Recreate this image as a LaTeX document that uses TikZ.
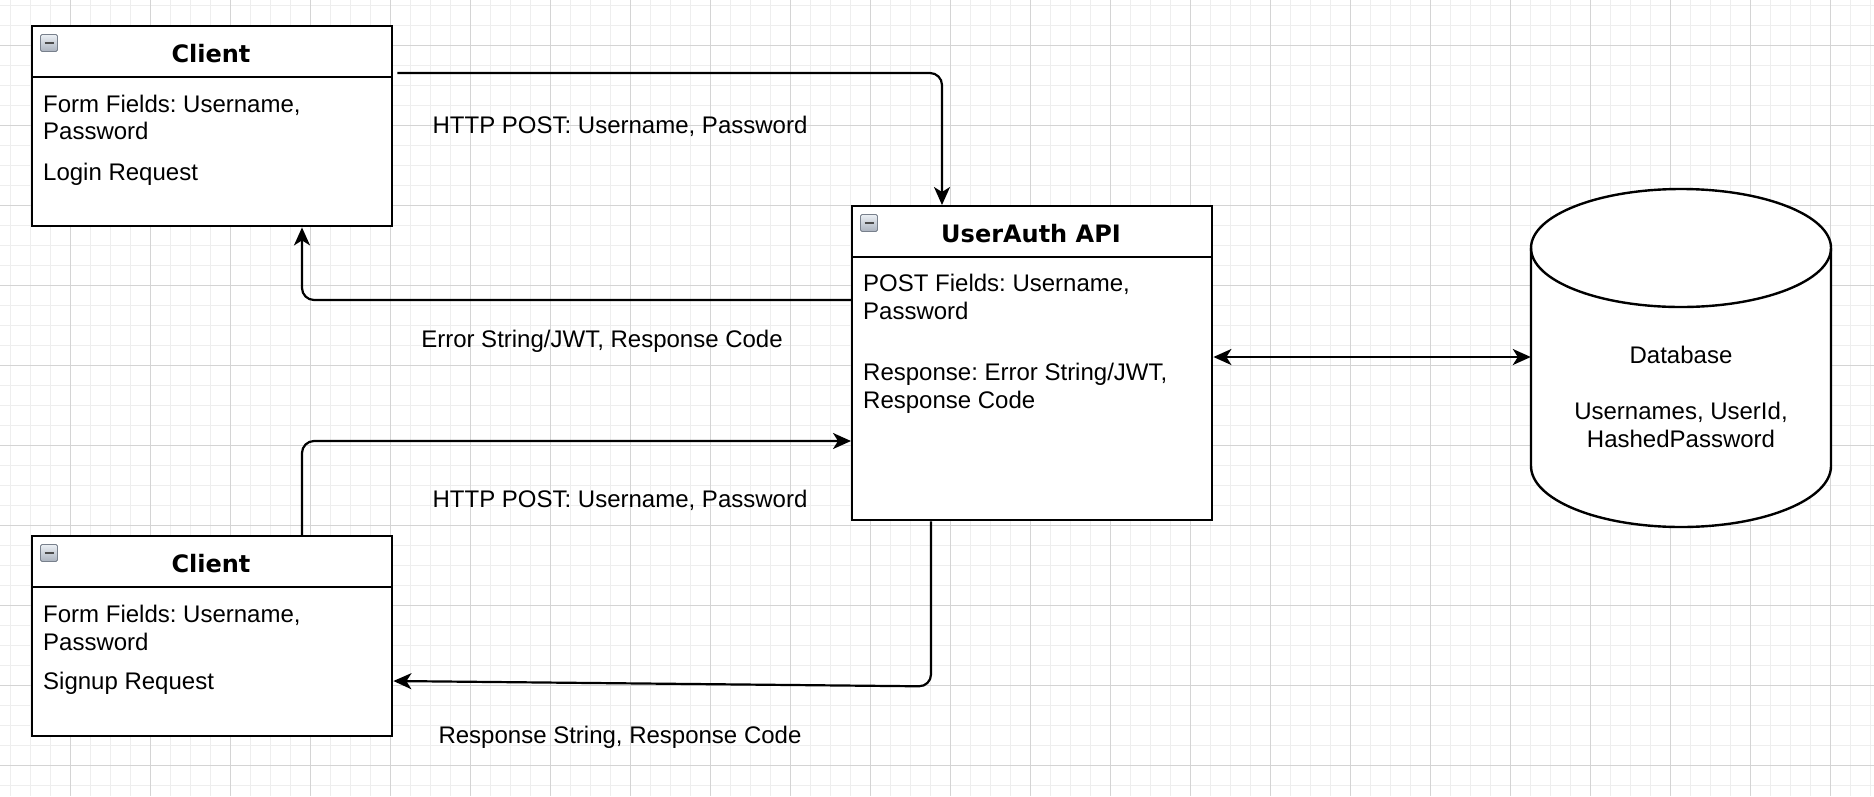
\documentclass[tikz,border=0pt]{standalone}
\usepackage{fontspec}
\setmainfont{Liberation Sans}
\newfontfamily\titlefont{DejaVu Sans}
\usetikzlibrary{arrows.meta,calc}
\frenchspacing
\definecolor{gridminor}{RGB}{238,238,238}
\definecolor{gridmajor}{RGB}{212,212,212}
\definecolor{iconedge}{RGB}{120,128,140}
\definecolor{icontop}{RGB}{236,240,245}
\definecolor{iconbot}{RGB}{170,178,190}
\begin{document}
\frenchspacing
\begin{tikzpicture}[x=1pt,y=-1pt,
  font=\fontsize{24pt}{27.6pt}\selectfont,
  boxline/.style={line width=2.4pt},
  umlbox/.style={draw, line width=2.4pt, fill=white, rectangle, inner sep=0pt,
    minimum width=360pt, anchor=north west},
  txt/.style={anchor=base west, inner sep=0pt},
  ctxt/.style={anchor=base, inner sep=0pt},
  boxtitle/.style={anchor=base, inner sep=0pt, font=\titlefont\bfseries\fontsize{24pt}{28pt}\selectfont},
  iconbox/.style={draw=iconedge, line width=0.8pt, top color=icontop, bottom color=iconbot,
    minimum size=17pt, inner sep=0pt, rounded corners=1.5pt,
    path picture={\draw[line width=2.2pt, black!70]
      ([xshift=-4.5pt]path picture bounding box.center) --
      ([xshift=4.5pt]path picture bounding box.center);}},
  conn/.style={line width=2.2pt, rounded corners=12pt},
  tip/.style={-{Stealth[length=18pt,width=16pt,inset=5pt]}},
  bitip/.style={{Stealth[length=18pt,width=16pt,inset=5pt]}-{Stealth[length=18pt,width=16pt,inset=5pt]}}
]
\useasboundingbox (0,0) rectangle (1874,796);
\fill[white] (0,0) rectangle (1874,796);
% grid
\foreach \x in {10,30,...,1870} \draw[gridminor, line width=1pt] (\x,0) -- (\x,796);
\foreach \y in {5,25,...,795} \draw[gridminor, line width=1pt] (0,\y) -- (1874,\y);
\foreach \x in {70,150,...,1830} \draw[gridmajor, line width=1pt] (\x,0) -- (\x,796);
\foreach \y in {45,125,...,765} \draw[gridmajor, line width=1pt] (0,\y) -- (1874,\y);

% Client 1
\node[umlbox, minimum height=200pt] (c1) at (31,25) {};
\draw[boxline] ($(c1.north west)+(0,52)$) -- ($(c1.north east)+(0,52)$);
\node[iconbox] (c1icon) at (49,43) {};
\node[boxtitle] (c1title) at (211,62) {Client};
\node[txt] (c1a) at (43,112) {Form Fields: Username,};
\node[txt] (c1b) at (43,139) {Password};
\node[txt] (c1c) at (43,180) {Login Request};

% Client 2
\node[umlbox, minimum height=200pt] (c2) at (31,535) {};
\draw[boxline] ($(c2.north west)+(0,52)$) -- ($(c2.north east)+(0,52)$);
\node[iconbox] (c2icon) at (49,553) {};
\node[boxtitle] (c2title) at (211,572) {Client};
\node[txt] (c2a) at (43,622) {Form Fields: Username,};
\node[txt] (c2b) at (43,650) {Password};
\node[txt] (c2c) at (43,689) {Signup Request};

% UserAuth API
\node[umlbox, minimum height=314pt] (api) at (851,205) {};
\draw[boxline] ($(api.north west)+(0,52)$) -- ($(api.north east)+(0,52)$);
\node[iconbox] (apiicon) at (869,223) {};
\node[boxtitle] (apititle) at (1031,242) {UserAuth API};
\node[txt] (apia) at (863,291) {POST Fields: Username,};
\node[txt] (apib) at (863,319) {Password};
\node[txt] (apic) at (863,380) {Response: Error String/JWT,};
\node[txt] (apid) at (863,408) {Response Code};

% Database cylinder
\draw[boxline, fill=white] (1531,248) -- (1531,466)
  arc[start angle=180, end angle=360, x radius=150pt, y radius=61pt]
  -- (1831,248)
  arc[start angle=0, end angle=180, x radius=150pt, y radius=59pt] -- cycle;
\draw[boxline] (1531,248) arc[start angle=180, end angle=360, x radius=150pt, y radius=59pt];
\node[minimum width=300pt, minimum height=338pt, inner sep=0pt] (db) at (1681,357) {};
\node[ctxt] (dba) at (1681,363) {Database};
\node[ctxt] (dbb) at (1681,419) {Usernames, UserId,};
\node[ctxt] (dbc) at (1681,447) {HashedPassword};

% connectors
\draw[conn, tip] ($(c1.north east)+(4,48)$) -| ($(api.north west)+(91,0)$);
\draw[conn, tip] ($(api.north west)+(0,95)$) -| ($(c1.south west)+(271,0)$);
\draw[conn, tip] ($(c2.north west)+(271,0)$) |- ($(api.north west)+(0,236)$);
\draw[conn, tip] ($(api.south west)+(80,0)$) -- ++(0,165) -- ($(c2.north east)+(0,146)$);
\draw[line width=2.2pt, bitip] ($(api.north east)+(0,152)$) -- (db.west);

% labels
\node[ctxt] (l1) at (620,133) {HTTP POST: Username, Password};
\node[ctxt] (l2) at (602,347) {Error String/JWT, Response Code};
\node[ctxt] (l3) at (620,507) {HTTP POST: Username, Password};
\node[ctxt] (l4) at (620,743) {Response String, Response Code};
\end{tikzpicture}
\end{document}
